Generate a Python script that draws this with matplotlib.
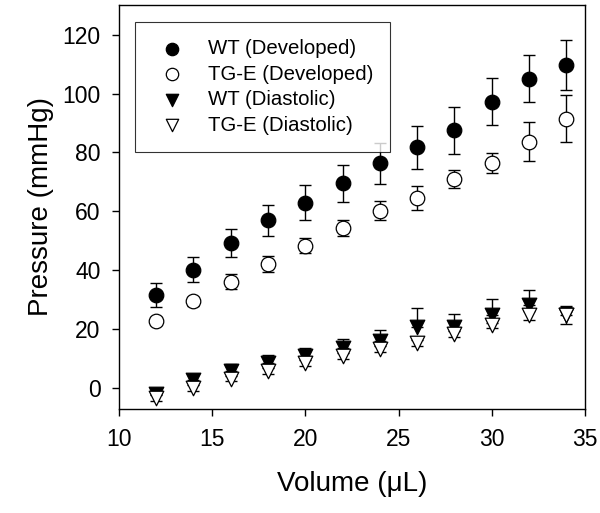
import matplotlib
matplotlib.use("Agg")
import matplotlib.pyplot as plt
import numpy as np

plt.rcParams['font.family'] = ['Liberation Sans', 'DejaVu Sans']

volume = [12, 14, 16, 18, 20, 22, 24, 26, 28, 30, 32, 34]

wt_dev = [31.6, 40.2, 49.3, 57.0, 63.0, 69.6, 76.3, 81.8, 87.6, 97.2, 105.1, 109.7]
wt_dev_err = [4.2, 4.2, 4.7, 5.3, 6.0, 6.3, 7.0, 7.3, 8.0, 8.0, 8.0, 8.5]

tg_dev = [22.8, 29.5, 36.1, 42.3, 48.4, 54.5, 60.3, 64.6, 70.9, 76.3, 83.6, 91.5]
tg_dev_err = [1.5, 1.5, 2.5, 2.7, 2.5, 2.7, 3.2, 4.0, 3.0, 3.4, 6.6, 8.0]

# diastolic WT: only the upper bar is visible in the figure
wt_dia = [-1.8, 2.7, 5.8, 8.5, 10.9, 13.5, 16.0, 20.7, 20.7, 25.0, 28.1, 25.0]
wt_dia_err = [1.0, 2.0, 2.3, 2.8, 2.8, 3.3, 3.6, 6.6, 4.5, 5.4, 5.4, 3.0]

tg_dia = [-3.4, 0.2, 3.3, 5.8, 8.5, 10.9, 13.2, 15.4, 18.3, 21.3, 24.7, 24.7]
tg_dia_err = [1.0, 1.0, 1.0, 1.0, 1.0, 1.0, 1.0, 1.0, 1.0, 1.0, 1.5, 3.0]

labels = ["WT (Developed)", "TG-E (Developed)", "WT (Diastolic)", "TG-E (Diastolic)"]

fig = plt.figure(figsize=(6, 5.13), dpi=100)
ax = fig.add_axes([0.198, 0.203, 0.777, 0.787])

series = [
    (wt_dev, wt_dev_err, 'o', 'black', False),
    (tg_dev, tg_dev_err, 'o', 'white', False),
    (wt_dia, wt_dia_err, 'v', 'black', True),
    (tg_dia, tg_dia_err, 'v', 'white', False),
]

handles = []
for (vals, errs, mk, fc, up_only), lab in zip(series, labels):
    yerr = [np.zeros(len(errs)), errs] if up_only else errs
    ax.errorbar(volume, vals, yerr=yerr, fmt='none', ecolor='black',
                elinewidth=1, capsize=4, capthick=1, zorder=2)
    h = ax.scatter(volume, vals, marker=mk, s=110, facecolor=fc,
                   edgecolor='black', linewidth=0.9, zorder=3, label=lab)
    handles.append(h)

ax.set_xlim(10, 35)
ax.set_ylim(-7, 130)
ax.set_xticks([10, 15, 20, 25, 30, 35])
ax.set_yticks([0, 20, 40, 60, 80, 100, 120])
ax.tick_params(direction='out', length=5, width=1, labelsize=16.5, top=False, right=False)
ax.tick_params(axis='x', pad=9)
ax.tick_params(axis='y', pad=8)
for sp in ax.spines.values():
    sp.set_linewidth(1)

ax.set_xlabel("Volume (μL)", fontsize=20, labelpad=14)
ax.set_ylabel("Pressure (mmHg)", fontsize=20, labelpad=6)

leg = ax.legend(handles=handles, loc='upper left', bbox_to_anchor=(0.034, 0.959),
                borderaxespad=0, fontsize=14.7, frameon=True, fancybox=False,
                edgecolor='black', handletextpad=0.73, labelspacing=0.32,
                borderpad=0.85, handlelength=2.0, scatterpoints=1,
                markerscale=0.85)
leg.get_frame().set_linewidth(0.8)

fig.savefig("out.png", dpi=100)
